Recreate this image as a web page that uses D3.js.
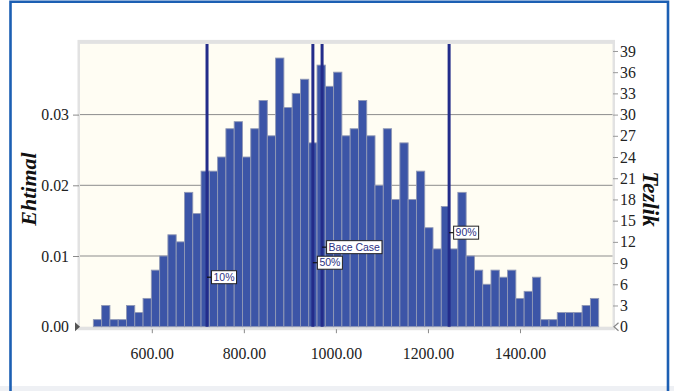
<!DOCTYPE html>
<html>
<head>
<meta charset="utf-8">
<script src="https://cdn.jsdelivr.net/npm/d3@7/dist/d3.min.js"></script>
<style>
  html, body { margin: 0; padding: 0; background: #ffffff; }
  svg { display: block; }
</style>
</head>
<body>
<svg id="chart" width="674" height="391"></svg>
<script>
// Histogram bins: first bin edge and bin width on the value axis
const binStart = 473;
const binWidth = 18;
// Frequency (count) of each bin
const counts = [
  1, 3, 1, 1, 3, 2, 4, 8, 10, 13, 12, 19, 16,
  22, 22, 24, 28, 29, 24, 28, 32, 27, 38, 31, 33,
  35, 26, 37, 34, 36, 27, 28, 32, 27, 20, 28, 18, 26,
  18, 22, 14, 11, 17, 11, 19, 10, 8, 6, 8, 7, 8,
  4, 5, 7, 1, 1, 2, 2, 2, 3, 4
];
const sampleSize = 1000;

// Axis ticks
const xTicks = [600, 800, 1000, 1200, 1400];
const probTicks = [0, 0.01, 0.02, 0.03];
const countTicks = [0, 3, 6, 9, 12, 15, 18, 21, 24, 27, 30, 33, 36, 39];

// Reference markers (percentiles and base case)
const markerNames = ["10%", "50%", "Bace Case", "90%"];
const markerValues = [720, 950, 970, 1246];
// Height (in count units) at which each marker's tag sits
const markerTagLevel = [7, 9.05, 11.25, 13.3];

const svg = d3.select("#chart");

// Plot geometry
const plotL = 80, plotR = 612.5, plotT = 43.9, plotB = 326.7;

const x = d3.scaleLinear().domain([444, 1601]).range([plotL, plotR]);
const yProb = d3.scaleLinear().domain([0, 0.04]).range([plotB, plotT]);
const yCount = d3.scaleLinear().domain([0, 0.04 * sampleSize]).range([plotB, plotT]);

// Outer frame
svg.append("rect").attr("x", 0).attr("y", 386).attr("width", 674).attr("height", 5)
  .attr("fill", "#eef0f4");
svg.append("path")
  .attr("d", "M10.5,391 V1.8 H668 V391")
  .attr("fill", "none").attr("stroke", "#1c5fb3").attr("stroke-width", 2.6);

// Panel border and plot background
svg.append("rect")
  .attr("x", plotL - 2.5).attr("y", plotT - 4)
  .attr("width", plotR - plotL + 5).attr("height", plotB - plotT + 7.5)
  .attr("fill", "#e2e2e2");
svg.append("rect")
  .attr("x", plotL).attr("y", plotT)
  .attr("width", plotR - plotL).attr("height", plotB - plotT)
  .attr("fill", "#fffdf3");

// Horizontal gridlines
svg.append("g").selectAll("line")
  .data(probTicks.filter(d => d > 0))
  .join("line")
  .attr("x1", plotL).attr("x2", plotR)
  .attr("y1", d => yProb(d)).attr("y2", d => yProb(d))
  .attr("stroke", "#8d8d8d").attr("stroke-width", 1);

// Histogram bars
svg.append("g").selectAll("rect")
  .data(counts)
  .join("rect")
  .attr("x", (d, i) => x(binStart + i * binWidth))
  .attr("width", (d, i) => x(binStart + (i + 1) * binWidth) - x(binStart + i * binWidth))
  .attr("y", d => yCount(d))
  .attr("height", d => yCount(0) - yCount(d))
  .attr("fill", "#3c55a7")
  .attr("stroke", "#9199b6")
  .attr("stroke-width", 0.9);

// Marker lines
svg.append("g").selectAll("line")
  .data(markerValues)
  .join("line")
  .attr("x1", d => x(d)).attr("x2", d => x(d))
  .attr("y1", plotT).attr("y2", plotB)
  .attr("stroke", "#232c8a").attr("stroke-width", 3);

// Marker tags
const tags = svg.append("g").selectAll("g")
  .data(markerNames.map((n, i) => ({ name: n, value: markerValues[i], level: markerTagLevel[i] })))
  .join("g")
  .attr("transform", d => `translate(${x(d.value)},${yCount(d.level)})`);

tags.append("line")
  .attr("x1", 0).attr("x2", 5).attr("y1", 0).attr("y2", 0)
  .attr("stroke", "#111").attr("stroke-width", 1.2);

tags.each(function (d) {
  const g = d3.select(this);
  const t = g.append("text")
    .attr("x", 6.5).attr("y", 0).attr("dy", "0.36em")
    .attr("font-family", "'Liberation Sans', Arial, sans-serif")
    .attr("font-size", 10.5)
    .attr("fill", "#2b3183")
    .text(d.name);
  const w = t.node().getComputedTextLength();
  g.insert("rect", "text")
    .attr("x", 4.5).attr("y", -6.5)
    .attr("width", w + 4).attr("height", 13)
    .attr("fill", "#ffffff").attr("stroke", "#222").attr("stroke-width", 1);
});

const serif = "'Liberation Serif', 'Times New Roman', serif";

// Bottom axis
const xAxis = svg.append("g")
  .attr("transform", `translate(0,${plotB + 2.5})`)
  .call(d3.axisBottom(x).tickValues(xTicks).tickFormat(d3.format(".2f")).tickSize(4).tickPadding(0));
xAxis.select(".domain").remove();
xAxis.selectAll(".tick line").attr("stroke", "#8a8a8a");
xAxis.selectAll(".tick text")
  .attr("y", 29.5).attr("dy", 0)
  .attr("font-family", serif).attr("font-size", 15.8).attr("fill", "#222");

// Left axis (probability)
const yAxisL = svg.append("g")
  .attr("transform", `translate(${plotL - 1},0)`)
  .call(d3.axisLeft(yProb).tickValues(probTicks).tickFormat(d3.format(".2f")).tickSize(6).tickPadding(4));
yAxisL.select(".domain").remove();
yAxisL.selectAll(".tick line").attr("stroke", "#8a8a8a");
yAxisL.selectAll(".tick").filter(d => d === 0).select("line").remove();
yAxisL.selectAll(".tick text")
  .attr("font-family", serif).attr("font-size", 15.8).attr("fill", "#222");
svg.append("path")
  .attr("d", `M${plotL - 5},${plotB - 4.5} L${plotL},${plotB} L${plotL - 5},${plotB + 4.5} Z`)
  .attr("fill", "#555");

// Right axis (frequency)
const yAxisR = svg.append("g")
  .attr("transform", `translate(${plotR + 0.5},0)`)
  .call(d3.axisRight(yCount).tickValues(countTicks).tickSize(5).tickPadding(2));
yAxisR.select(".domain").remove();
yAxisR.selectAll(".tick line").attr("stroke", "#9a9a9a");
yAxisR.selectAll(".tick").filter(d => d === 0).select("line").remove();
yAxisR.selectAll(".tick text")
  .attr("font-family", serif).attr("font-size", 15.8).attr("fill", "#222");
svg.append("path")
  .attr("d", `M${plotR + 6},${plotB - 4} L${plotR + 1.5},${plotB} L${plotR + 6},${plotB + 4}`)
  .attr("fill", "none").attr("stroke", "#888").attr("stroke-width", 1.2);

// Axis titles
svg.append("text")
  .attr("transform", "translate(36,189) rotate(-90)")
  .attr("text-anchor", "middle")
  .attr("font-family", serif).attr("font-style", "italic").attr("font-weight", "bold")
  .attr("font-size", 22).attr("fill", "#111")
  .text("Ehtimal");

svg.append("text")
  .attr("transform", "translate(643,199) rotate(90)")
  .attr("text-anchor", "middle")
  .attr("font-family", serif).attr("font-style", "italic").attr("font-weight", "bold")
  .attr("font-size", 23).attr("fill", "#111")
  .text("Tezlik");
</script>
</body>
</html>
